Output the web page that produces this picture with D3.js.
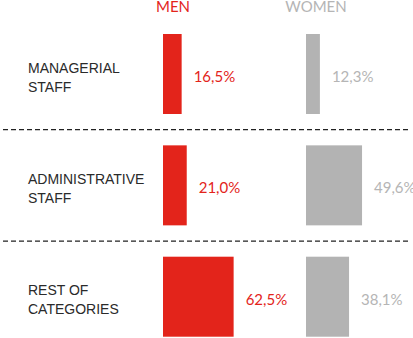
<!DOCTYPE html>
<html>
<head>
<meta charset="utf-8">
<script src="https://cdn.jsdelivr.net/npm/d3@7"></script>
<style>
  body { margin: 0; background: #fff; }
</style>
</head>
<body>
<svg id="chart" width="413" height="338"></svg>
<script>
// categories (two lines each) and the two series, in %
const categories = ['MANAGERIAL STAFF', 'ADMINISTRATIVE STAFF', 'REST OF CATEGORIES'];
const categoryLines = [['MANAGERIAL', 'STAFF'], ['ADMINISTRATIVE', 'STAFF'], ['REST OF', 'CATEGORIES']];
const series = ['MEN', 'WOMEN'];
const men = [16.5, 21.0, 62.5];
const women = [12.3, 49.6, 38.1];
const colors = { MEN: '#e3241b', WOMEN: '#b3b3b3' };
const textColors = { MEN: '#e3241b', WOMEN: '#b5b5b5' };

const svg = d3.select('#chart');

// row centres
const y = d3.scalePoint().domain(categories).range([74, 296.7]);
const barH = 80;
// column starts
const col = d3.scalePoint().domain(series).range([163, 306]);
// bar length
const w = d3.scaleLinear().domain([0, 100]).range([0, 113]);

const fmt = v => d3.format('.1f')(v).replace('.', ',') + '%';

// headers
svg.selectAll('text.head')
    .data(series)
    .enter()
    .append('text')
    .attr('class', 'head')
    .attr('x', d => col(d) + 10)
    .attr('y', 12)
    .attr('text-anchor', 'middle')
    .attr('fill', d => textColors[d])
    .style('font-family', 'Lato')
    .style('font-size', '15px')
    .text(d => d);

// dashed separators between rows
const mids = d3.pairs(categories).map(([a, b]) => (y(a) + y(b)) / 2);
svg.selectAll('line.sep')
    .data(mids)
    .enter()
    .append('line')
    .attr('x1', 3).attr('x2', 409)
    .attr('y1', d => d).attr('y2', d => d)
    .attr('stroke', '#222')
    .attr('stroke-width', 1.3)
    .attr('stroke-dasharray', '5,3');

// category labels
categories.forEach((c, i) => {
    const t = svg.append('text')
        .attr('x', 28)
        .attr('y', y(c) - 1.5)
        .attr('fill', '#2a2a2a')
        .style('font-family', 'Liberation Sans, Arial, sans-serif')
        .style('font-size', '14px');
    categoryLines[i].forEach((line, j) => {
        t.append('tspan')
            .attr('x', 28)
            .attr('dy', j === 0 ? 0 : 19)
            .text(line);
    });
});

// bars and values
const rows = [];
categories.forEach((c, i) => {
    rows.push({ cat: c, s: 'MEN', v: men[i] });
    rows.push({ cat: c, s: 'WOMEN', v: women[i] });
});

svg.append('g')
    .selectAll('rect')
    .data(rows)
    .enter()
    .append('rect')
    .attr('x', d => col(d.s))
    .attr('y', d => y(d.cat) - barH / 2)
    .attr('width', d => w(d.v))
    .attr('height', barH)
    .attr('fill', d => colors[d.s]);

svg.append('g')
    .selectAll('text')
    .data(rows)
    .enter()
    .append('text')
    .attr('x', d => col(d.s) + w(d.v) + 12)
    .attr('y', d => y(d.cat) + 8)
    .attr('fill', d => textColors[d.s])
    .style('font-family', 'Lato')
    .style('font-size', '15px')
    .text(d => fmt(d.v));
</script>
</body>
</html>
